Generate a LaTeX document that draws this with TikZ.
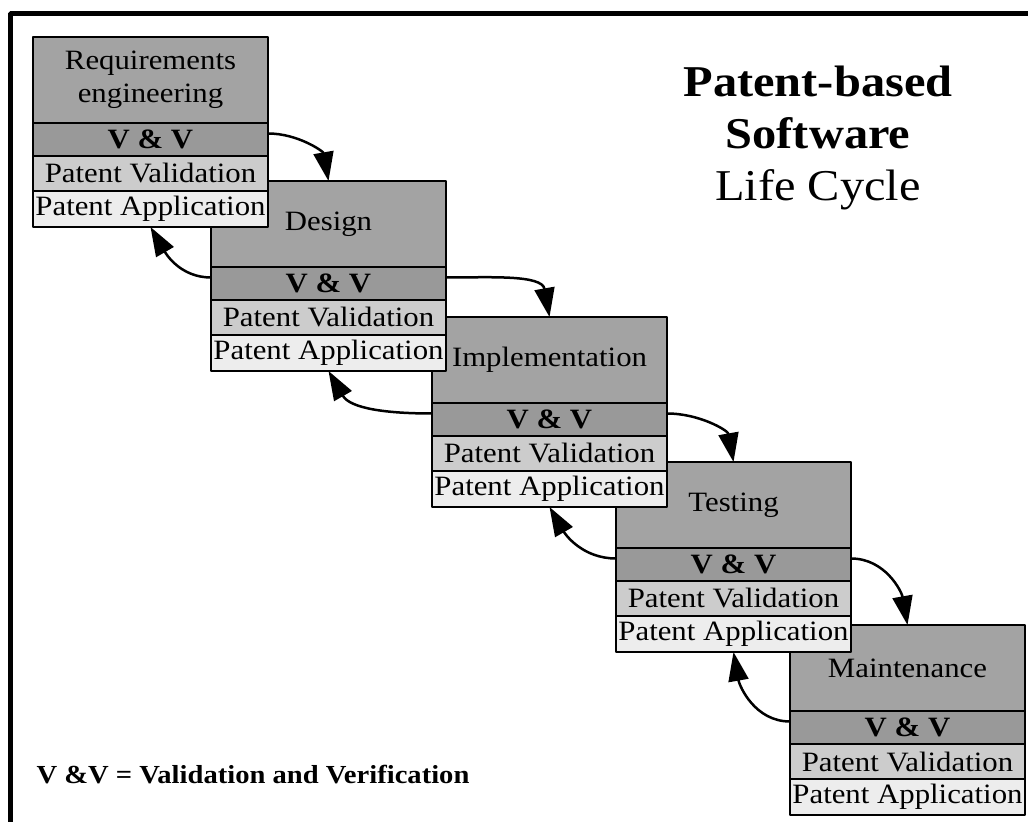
\documentclass[tikz,border=0pt]{standalone}
\usepackage{fontspec}
\setmainfont{Liberation Serif}[FakeStretch=1.1]
\usetikzlibrary{arrows.meta,positioning}

\definecolor{phasegray}{gray}{0.64}
\definecolor{vvgray}{gray}{0.6}
\definecolor{valgray}{gray}{0.8}
\definecolor{appgray}{gray}{0.93}

\begin{document}
\begin{tikzpicture}[>={Triangle[length=29bp,width=20bp]},line join=bevel,
  phase/.style={draw,line width=2bp,fill=phasegray,minimum width=235bp,minimum height=86bp,inner sep=0pt,outer sep=0pt,align=center,font=\fontsize{28bp}{33bp}\selectfont},
  vvrow/.style={phase,fill=vvgray,minimum height=33bp,font=\fontsize{28bp}{30bp}\selectfont\bfseries},
  valrow/.style={phase,fill=valgray,minimum height=35bp},
  approw/.style={phase,fill=appgray,minimum height=36bp},
  flow/.style={->,line width=2.5bp}]
	\useasboundingbox (0bp,0bp) rectangle (1028bp,822bp);
	\draw [line width=5bp] (10.5bp,0bp) -- (10.5bp,808.5bp) -- (1028bp,808.5bp);
	%% last phase first, so the earlier boxes lie on top
	\node (mnt) at (790bp,197bp) [phase,anchor=north west] {Maintenance};
	  \node (mntvv) [vvrow,below=0pt of mnt] {V \& V};
	  \node (mntval) [valrow,below=0pt of mntvv] {Patent Validation};
	  \node (mntapp) [approw,below=0pt of mntval] {Patent Application};
	
	\node (tst) at (616bp,360bp) [phase,anchor=north west] {Testing};
	  \node (tstvv) [vvrow,below=0pt of tst] {V \& V};
	  \node (tstval) [valrow,below=0pt of tstvv] {Patent Validation};
	  \node (tstapp) [approw,below=0pt of tstval] {Patent Application};
	
	\node (imp) at (432bp,505bp) [phase,anchor=north west] {Implementation};
	  \node (impvv) [vvrow,below=0pt of imp] {V \& V};
	  \node (impval) [valrow,below=0pt of impvv] {Patent Validation};
	  \node (impapp) [approw,below=0pt of impval] {Patent Application};
	
	\node (des) at (211bp,641bp) [phase,anchor=north west] {Design};
	  \node (desvv) [vvrow,below=0pt of des] {V \& V};
	  \node (desval) [valrow,below=0pt of desvv] {Patent Validation};
	  \node (desapp) [approw,below=0pt of desval] {Patent Application};
	
	\node (req) at (33bp,785bp) [phase,anchor=north west] {Requirements\\engineering};
	  \node (reqvv) [vvrow,below=0pt of req] {V \& V};
	  \node (reqval) [valrow,below=0pt of reqvv] {Patent Validation};
	  \node (reqapp) [approw,below=0pt of reqval] {Patent Application};
	
	\node (title) at (818bp,684bp) [align=center,font=\fontsize{44bp}{52bp}\selectfont] {\textbf{Patent-based}\\\textbf{Software}\\Life Cycle};
	\node (note) at (33bp,47bp) [anchor=west,font=\fontsize{26bp}{28bp}\selectfont\bfseries] {V \&V = Validation and Verification};
	
	% forward
	\draw [flow] ([yshift=6bp]reqvv.east) to[out=0,in=100] (des.north);
	\draw [flow] ([yshift=6bp]desvv.east) to[out=0,in=100] (imp.north);
	\draw [flow] ([yshift=6bp]impvv.east) to[out=0,in=100] (tst.north);
	\draw [flow] ([yshift=6bp]tstvv.east) to[out=0,in=100] (mnt.north);
	% back
	\draw [flow] ([yshift=6bp]desvv.west) to[out=180,in=-60] (reqapp.south);
	\draw [flow] ([yshift=6bp]impvv.west) to[out=180,in=-60] (desapp.south);
	\draw [flow] ([yshift=6bp]tstvv.west) to[out=180,in=-60] (impapp.south);
	\draw [flow] ([yshift=6bp]mntvv.west) to[out=180,in=-80] (tstapp.south);
	%
\end{tikzpicture}
\end{document}
